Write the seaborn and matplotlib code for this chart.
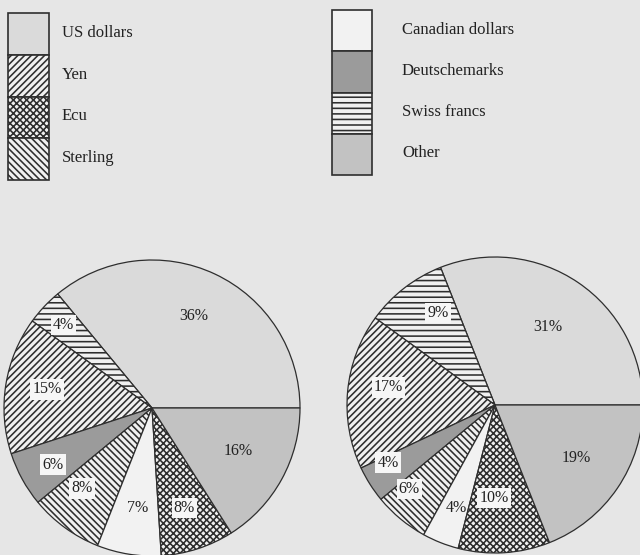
import numpy as np
import matplotlib
matplotlib.use("Agg")
import matplotlib.pyplot as plt
from matplotlib.patches import Rectangle
import seaborn as sns

# Currency shares, listed in pie order (counter-clockwise from 3 o'clock)
slice_order = ["US dollars", "Swiss francs", "Yen", "Deutschemarks",
               "Sterling", "Canadian dollars", "Ecu", "Other"]
shares_left = [36, 4, 15, 6, 8, 7, 8, 16]
shares_right = [31, 9, 17, 4, 6, 4, 10, 19]

# Legend columns
legend_col1 = ["US dollars", "Yen", "Ecu", "Sterling"]
legend_col2 = ["Canadian dollars", "Deutschemarks", "Swiss francs", "Other"]

sns.set_theme(style="white")
plt.rcParams["font.family"] = ["Liberation Serif", "DejaVu Serif"]
plt.rcParams["hatch.linewidth"] = 1.15
plt.rcParams["hatch.color"] = "#2e2e2e"

INK = "#2e2e2e"
PAPER = "#e6e6e6"
BOX = "#f6f6f6"

styles = {
    "US dollars":       dict(fc="#dadada", hatch=None,     boxed=False),
    "Yen":              dict(fc="#f0f0f0", hatch="/" * 5,  boxed=True),
    "Ecu":              dict(fc="#f0f0f0", hatch="x" * 5,  boxed=True),
    "Sterling":         dict(fc="#f0f0f0", hatch="\\" * 5, boxed=True),
    "Canadian dollars": dict(fc="#f2f2f2", hatch=None,     boxed=False),
    "Deutschemarks":    dict(fc="#9b9b9b", hatch=None,     boxed=True),
    "Swiss francs":     dict(fc="#f0f0f0", hatch="---",    boxed=True),
    "Other":            dict(fc="#c2c2c2", hatch=None,     boxed=False),
}

# (radius fraction, angle nudge in degrees) for each percentage label
label_place_left = [(0.68, 1), (0.82, 0), (0.72, -1), (0.77, 1),
                    (0.72, -5), (0.68, 1), (0.71, 0), (0.65, 2)]
label_place_right = [(0.64, 0), (0.73, -6), (0.73, -4), (0.82, -4),
                     (0.81, -6), (0.74, 1), (0.63, -4), (0.66, 1)]

W, H = 640, 555
fig = plt.figure(figsize=(W / 100, H / 100), dpi=100, facecolor=PAPER)

R_PX = 148
SPAN = 1.06


def pie_axes(cx, cy):
    side = 2 * SPAN * R_PX
    ax = fig.add_axes([(cx - side / 2) / W, (H - cy - side / 2) / H,
                       side / W, side / H])
    ax.set_facecolor("none")
    return ax


def draw_pie(ax, shares, placement):
    wedges, _ = ax.pie(
        shares, startangle=0, counterclock=True, radius=1,
        colors=[styles[n]["fc"] for n in slice_order],
        wedgeprops=dict(edgecolor=INK, linewidth=0.9),
    )
    for w, name in zip(wedges, slice_order):
        if styles[name]["hatch"]:
            w.set_hatch(styles[name]["hatch"])
    for w, share, (rf, nudge), name in zip(wedges, shares, placement, slice_order):
        ang = np.deg2rad((w.theta1 + w.theta2) / 2 + nudge)
        box = (dict(facecolor=BOX, edgecolor="none", pad=1.6)
               if styles[name]["boxed"] else None)
        ax.text(rf * np.cos(ang), rf * np.sin(ang), f"{share}%",
                ha="center", va="center", fontsize=11.5, color="#222222",
                bbox=box)
    ax.set_xlim(-SPAN, SPAN)
    ax.set_ylim(-SPAN, SPAN)
    ax.set_aspect("equal")
    ax.axis("off")


draw_pie(pie_axes(152, 408), shares_left, label_place_left)
draw_pie(pie_axes(495, 405), shares_right, label_place_right)

# Legend: stacked swatches with labels beside them
leg = fig.add_axes([0, 0, 1, 1], zorder=-1)
leg.set_xlim(0, W)
leg.set_ylim(H, 0)
leg.axis("off")

columns = [
    (legend_col1, 8, 13, 41, 41.75, 62),
    (legend_col2, 332, 10, 40, 41.25, 402),
]
for names, x0, y0, bw, bh, tx in columns:
    for i, name in enumerate(names):
        st = styles[name]
        top = y0 + i * bh
        leg.add_patch(Rectangle((x0, top), bw, bh, facecolor=st["fc"],
                                edgecolor=INK, linewidth=1.2,
                                hatch=st["hatch"]))
        leg.text(tx, top + bh / 2 - 1, name, ha="left", va="center",
                 fontsize=12, color="#222222")

fig.savefig("out.png", dpi=100, facecolor=PAPER)
